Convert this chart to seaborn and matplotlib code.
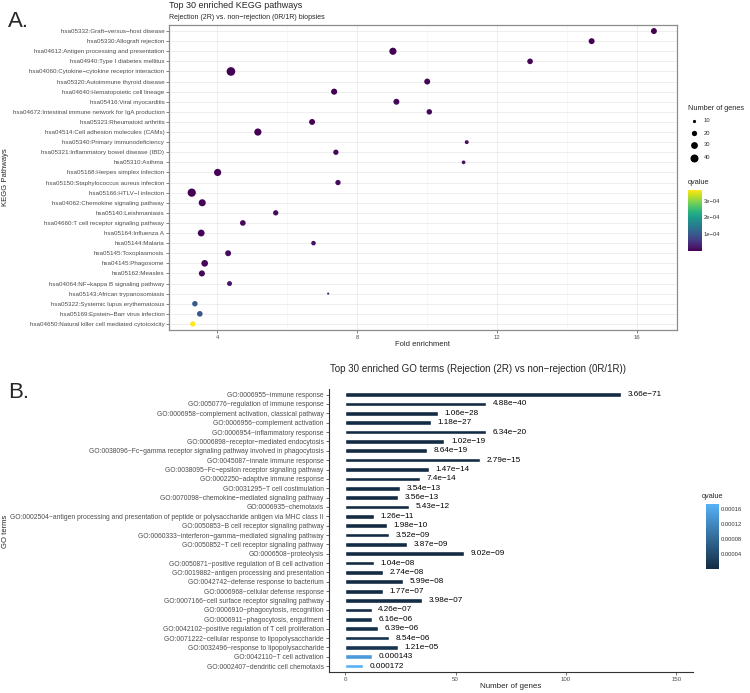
import numpy as np
import pandas as pd
import matplotlib
matplotlib.use("Agg")
import matplotlib.pyplot as plt
import seaborn as sns
from matplotlib.colors import LinearSegmentedColormap, Normalize
from matplotlib.cm import ScalarMappable

# ---------------- data ----------------
kegg_terms = [
    "hsa05332:Graft-versus-host disease",
    "hsa05330:Allograft rejection",
    "hsa04612:Antigen processing and presentation",
    "hsa04940:Type I diabetes mellitus",
    "hsa04060:Cytokine-cytokine receptor interaction",
    "hsa05320:Autoimmune thyroid disease",
    "hsa04640:Hematopoietic cell lineage",
    "hsa05416:Viral myocarditis",
    "hsa04672:Intestinal immune network for IgA production",
    "hsa05323:Rheumatoid arthritis",
    "hsa04514:Cell adhesion molecules (CAMs)",
    "hsa05340:Primary immunodeficiency",
    "hsa05321:Inflammatory bowel disease (IBD)",
    "hsa05310:Asthma",
    "hsa05168:Herpes simplex infection",
    "hsa05150:Staphylococcus aureus infection",
    "hsa05166:HTLV-I infection",
    "hsa04062:Chemokine signaling pathway",
    "hsa05140:Leishmaniasis",
    "hsa04660:T cell receptor signaling pathway",
    "hsa05164:Influenza A",
    "hsa05144:Malaria",
    "hsa05145:Toxoplasmosis",
    "hsa04145:Phagosome",
    "hsa05162:Measles",
    "hsa04064:NF-kappa B signaling pathway",
    "hsa05143:African trypanosomiasis",
    "hsa05322:Systemic lupus erythematosus",
    "hsa05169:Epstein-Barr virus infection",
    "hsa04650:Natural killer cell mediated cytotoxicity",
]
kegg_fold = [16.48, 14.70, 9.02, 12.94, 4.39, 10.00, 7.34, 9.12, 10.06, 6.71,
             5.16, 11.13, 7.39, 11.04, 4.01, 7.45, 3.27, 3.57, 5.67, 4.73,
             3.54, 6.75, 4.31, 3.64, 3.56, 4.35, 7.17, 3.36, 3.50, 3.30]
kegg_genes = [24, 24, 33, 22, 46, 24, 25, 24, 21, 24,
              33, 13, 20, 12, 33, 20, 42, 32, 20, 22,
              30, 16, 24, 29, 25, 18, 7, 21, 22, 20]
kegg_q = [3.0e-6, 2.5e-6, 2.0e-6, 6.0e-6, 2.0e-6, 5.0e-6, 4.0e-6, 7.0e-6, 8.0e-6, 6.0e-6,
          3.0e-6, 1.5e-5, 9.0e-6, 1.8e-5, 4.0e-6, 1.2e-5, 3.0e-6, 5.0e-6, 1.4e-5, 1.0e-5,
          6.0e-6, 2.0e-5, 1.3e-5, 9.0e-6, 1.1e-5, 2.2e-5, 4.0e-5, 1.05e-4, 1.0e-4, 3.62e-4]

go_terms = [
    "GO:0006955~immune response",
    "GO:0050776~regulation of immune response",
    "GO:0006958~complement activation, classical pathway",
    "GO:0006956~complement activation",
    "GO:0006954~inflammatory response",
    "GO:0006898~receptor-mediated endocytosis",
    "GO:0038096~Fc-gamma receptor signaling pathway involved in phagocytosis",
    "GO:0045087~innate immune response",
    "GO:0038095~Fc-epsilon receptor signaling pathway",
    "GO:0002250~adaptive immune response",
    "GO:0031295~T cell costimulation",
    "GO:0070098~chemokine-mediated signaling pathway",
    "GO:0006935~chemotaxis",
    "GO:0002504~antigen processing and presentation of peptide or polysaccharide antigen via MHC class II",
    "GO:0050853~B cell receptor signaling pathway",
    "GO:0060333~interferon-gamma-mediated signaling pathway",
    "GO:0050852~T cell receptor signaling pathway",
    "GO:0006508~proteolysis",
    "GO:0050871~positive regulation of B cell activation",
    "GO:0019882~antigen processing and presentation",
    "GO:0042742~defense response to bacterium",
    "GO:0006968~cellular defense response",
    "GO:0007166~cell surface receptor signaling pathway",
    "GO:0006910~phagocytosis, recognition",
    "GO:0006911~phagocytosis, engulfment",
    "GO:0042102~positive regulation of T cell proliferation",
    "GO:0071222~cellular response to lipopolysaccharide",
    "GO:0032496~response to lipopolysaccharide",
    "GO:0042110~T cell activation",
    "GO:0002407~dendritic cell chemotaxis",
]
go_genes = [125, 64, 42, 39, 64, 45, 37, 61, 38, 34,
            25, 24, 29, 13, 19, 20, 28, 54, 13, 17,
            26, 17, 35, 12, 12, 15, 20, 24, 12, 8]
go_q = [3.66e-71, 4.88e-40, 1.06e-28, 1.18e-27, 6.34e-20, 1.02e-19, 8.64e-19, 2.79e-15,
        1.47e-14, 7.4e-14, 3.54e-13, 3.56e-13, 5.43e-12, 1.26e-11, 1.98e-10, 3.52e-09,
        3.87e-09, 9.02e-09, 1.04e-08, 2.74e-08, 5.99e-08, 1.77e-07, 3.98e-07, 4.26e-07,
        6.16e-06, 6.39e-06, 8.54e-06, 1.21e-05, 0.000143, 0.000172]

# ---------------- setup ----------------
sns.set_theme(style="white")
plt.rcParams["font.family"] = ["Liberation Sans", "DejaVu Sans"]
plt.rcParams["axes.unicode_minus"] = True

W, H = 750, 693
fig = plt.figure(figsize=(7.5, 6.93), dpi=100)
fig.patch.set_facecolor("white")


def box(l, t, r, b):
    return [l / W, 1 - b / H, (r - l) / W, (b - t) / H]


def fy(y):
    return 1 - y / H


def dash(s):
    return s.replace("-", "\u2212")


def size_of(g):
    return -4.0 + 0.93 * g


TICK_C = "#4d4d4d"

# ---------------- panel A ----------------
ax1 = fig.add_axes(box(169, 25, 677, 330))
kdf = pd.DataFrame({"term": [dash(t) for t in kegg_terms], "fold": kegg_fold,
                    "genes": kegg_genes, "q": kegg_q})
qmin, qmax = min(kegg_q), max(kegg_q)
sns.scatterplot(data=kdf, x="fold", y="term", hue="q", size="genes",
                palette="viridis", hue_norm=(qmin, qmax),
                sizes=(size_of(5), size_of(50)), size_norm=(5, 50),
                linewidth=0, legend=False, ax=ax1, zorder=3)
ax1.set_xlim(2.62, 17.14)
ax1.set_ylim(29.6, -0.6)
ax1.set_xticks([4, 8, 12, 16])
ax1.set_xticks([6, 10, 14], minor=True)
ax1.set_facecolor("white")
ax1.grid(which="major", color="#ebebeb", lw=0.6)
ax1.grid(which="minor", axis="x", color="#f3f3f3", lw=0.4)
ax1.set_axisbelow(True)
for s in ax1.spines.values():
    s.set_color("#8c8c8c")
    s.set_linewidth(0.9)
ax1.tick_params(axis="y", which="major", length=2.2, width=0.5, color=TICK_C,
                labelsize=4.5, labelcolor=TICK_C, pad=1.2, left=True)
ax1.tick_params(axis="x", which="major", length=2.2, width=0.5, color=TICK_C,
                labelsize=4.2, labelcolor=TICK_C, pad=1.5, bottom=True)
ax1.tick_params(which="minor", length=0)
ax1.set_xlabel("")
ax1.set_ylabel("")

fig.text(169 / W, fy(8.5), "Top 30 enriched KEGG pathways", fontsize=6.5, va="baseline", ha="left")
fig.text(169 / W, fy(19.3), dash("Rejection (2R) vs. non-rejection (0R/1R) biopsies"),
         fontsize=5.0, va="baseline", ha="left")
fig.text(423 / W, fy(344), "Fold enrichment", fontsize=5.5, va="center", ha="center")
fig.text(6 / W, fy(177.5), "KEGG Pathways", fontsize=5.5, va="center", ha="center", rotation=90)
fig.text(8 / W, fy(27), "A.", fontsize=16, va="baseline", ha="left")

# ---------------- panel B ----------------
ax2 = fig.add_axes(box(328.5, 389, 693, 671.7))
go_disp = [dash(t) for t in go_terms]
gdf = pd.DataFrame({"term": go_disp, "genes": go_genes, "q": go_q})
cmap2 = LinearSegmentedColormap.from_list("gg", ["#132B43", "#56B1F7"])
norm2 = Normalize(min(go_q), max(go_q))
pal = {t: cmap2(norm2(q)) for t, q in zip(go_disp, go_q)}
sns.barplot(data=gdf, y="term", x="genes", hue="term", palette=pal, order=go_disp,
            hue_order=go_disp, width=0.5, legend=False, ax=ax2, saturation=1)
for i, (g, q) in enumerate(zip(go_genes, go_q)):
    ax2.text(g + 3.0, i, dash(f"{q:.3g}"), va="center", ha="left", fontsize=5.9, color="black")
ax2.set_xlim(-7.5, 157.5)
ax2.set_ylim(29.6, -0.6)
ax2.set_xticks([0, 50, 100, 150])
ax2.set_facecolor("white")
for side in ["top", "right"]:
    ax2.spines[side].set_visible(False)
for side in ["left", "bottom"]:
    ax2.spines[side].set_color("#333333")
    ax2.spines[side].set_linewidth(0.8)
ax2.tick_params(axis="y", which="major", length=2.2, width=0.5, color="#333333",
                labelsize=4.85, labelcolor=TICK_C, pad=1.2, left=True)
ax2.tick_params(axis="x", which="major", length=2.2, width=0.5, color="#333333",
                labelsize=4.4, labelcolor=TICK_C, pad=1.5, bottom=True)
ax2.set_xlabel("")
ax2.set_ylabel("")

fig.text(330 / W, fy(372), dash("Top 30 enriched GO terms (Rejection (2R) vs non-rejection (0R/1R))"),
         fontsize=7.0, va="baseline", ha="left")
fig.text(510.7 / W, fy(688), "Number of genes", fontsize=5.8, va="baseline", ha="center")
fig.text(6 / W, fy(531), "GO terms", fontsize=5.5, va="center", ha="center", rotation=90)
fig.text(8 / W, fy(398), "B.", fontsize=16, va="baseline", ha="left")

# ---------------- legends ----------------
ov = fig.add_axes([0, 0, 1, 1])
ov.set_xlim(0, W)
ov.set_ylim(H, 0)
ov.axis("off")
ov.text(688, 108, "Number of genes", fontsize=5.3, va="center", ha="left")
for g, y in zip([10, 20, 30, 40], [120.7, 133.3, 145.0, 157.7]):
    ov.scatter([694.3], [y], s=size_of(g), color="black", lw=0)
    ov.text(704, y, str(g), fontsize=4.2, va="center", ha="left", color="#333333")
ov.text(688, 183, "qvalue", fontsize=5.3, va="center", ha="left")
ov.text(702, 496, "qvalue", fontsize=5.3, va="center", ha="left")

cax1 = fig.add_axes(box(688, 190, 701.7, 251))
cb1 = fig.colorbar(ScalarMappable(Normalize(qmin, qmax), cmap="viridis"), cax=cax1)
cb1.set_ticks([1e-4, 2e-4, 3e-4])
cb1.set_ticklabels(["1e\u221204", "2e\u221204", "3e\u221204"])
cb1.outline.set_visible(False)
cax1.tick_params(length=2, width=0.5, color="white", direction="in", labelsize=4.2,
                 labelcolor="#333333", pad=1.5, right=True, left=True)

cax2 = fig.add_axes(box(706, 504, 719, 569))
cb2 = fig.colorbar(ScalarMappable(norm2, cmap=cmap2), cax=cax2)
cb2.set_ticks([4e-5, 8e-5, 1.2e-4, 1.6e-4])
cb2.set_ticklabels(["0.00004", "0.00008", "0.00012", "0.00016"])
cb2.outline.set_visible(False)
cax2.tick_params(length=2, width=0.5, color="white", direction="in", labelsize=4.2,
                 labelcolor="#333333", pad=1.5, right=True, left=True)

fig.savefig("out.png", dpi=100, facecolor="white")
